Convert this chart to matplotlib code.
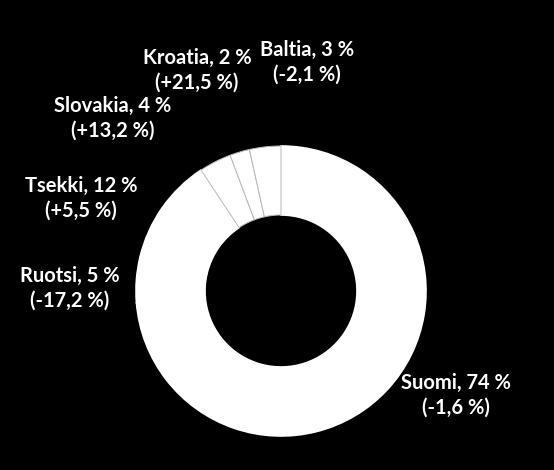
import matplotlib
matplotlib.use('Agg')
import matplotlib.pyplot as plt

# market shares by country (wedges drawn clockwise from 12 o'clock)
countries = ['Suomi', 'Ruotsi', 'Tsekki', 'Slovakia', 'Kroatia', 'Baltia']
shares = [73.7, 5.0, 12.0, 3.6, 2.2, 3.5]
share_labels = ['74 %', '5 %', '12 %', '4 %', '2 %', '3 %']
changes = ['(-1,6 %)', '(-17,2 %)', '(+5,5 %)', '(+13,2 %)', '(+21,5 %)', '(-2,1 %)']

# label positions in pixels (from top-left)
label_pos = [(456, 395), (70, 288), (81, 198), (113, 118), (197, 70), (307, 62)]

W, H = 554, 470
fig = plt.figure(figsize=(W / 100, H / 100), dpi=100, facecolor='black')
ax = fig.add_axes([0, 0, 1, 1])
ax.set_facecolor('black')
ax.set_aspect('equal')
ax.axis('off')

cx, cy = 281, H - 291
r_out, r_in = 145, 76

wedges, _ = ax.pie(shares, startangle=90, counterclock=False, center=(cx, cy),
                   radius=r_out, colors=['white'] * len(shares),
                   wedgeprops=dict(width=r_out - r_in, edgecolor='white', linewidth=1.2))

# only the small slices show a faint separator
for w in wedges[3:]:
    w.set_edgecolor('#b8b8b8')
    w.set_linewidth(0.7)
    w.set_zorder(3)

ax.set_xlim(0, W)
ax.set_ylim(0, H)

for name, s, ch, (px, py) in zip(countries, share_labels, changes, label_pos):
    ax.text(px, H - py, name + ', ' + s + '\n' + ch, color='white', ha='center', va='center',
            fontsize=14.5, fontweight='bold', family=['Lato', 'DejaVu Sans'], linespacing=1.3)

fig.savefig('out.png', dpi=100, facecolor='black')
